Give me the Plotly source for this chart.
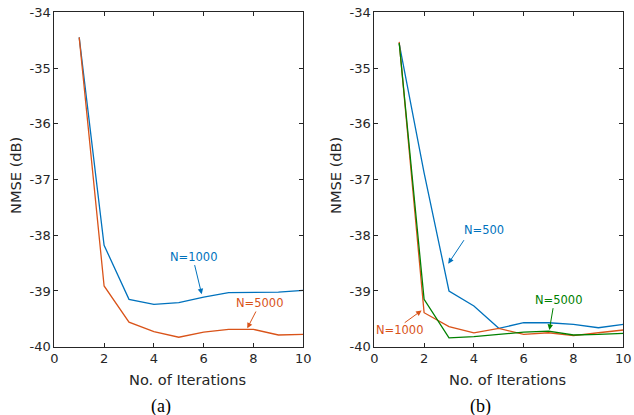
import plotly.graph_objects as go

iters = [1, 2, 3, 4, 5, 6, 7, 8, 9, 10]

# Panel (a)
a_n1000 = [-34.45, -38.18, -39.15, -39.24, -39.21, -39.11, -39.03, -39.03, -39.02, -38.99]
a_n5000 = [-34.45, -38.91, -39.56, -39.73, -39.83, -39.74, -39.69, -39.69, -39.79, -39.78]

# Panel (b)
b_n500 = [-34.56, -36.88, -39.00, -39.27, -39.67, -39.57, -39.57, -39.60, -39.66, -39.60]
b_n1000 = [-34.53, -39.39, -39.64, -39.75, -39.67, -39.78, -39.75, -39.80, -39.75, -39.70]
b_n5000 = [-34.55, -39.15, -39.84, -39.82, -39.78, -39.74, -39.72, -39.79, -39.78, -39.76]

x_ticks = [0, 2, 4, 6, 8, 10]
y_ticks = [-40, -39, -38, -37, -36, -35, -34]
y_tick_text = ["-40", "-39", "-38", "-37", "-36", "-35", "-34"]

BLUE = "#0072BD"
ORANGE = "#D95319"
GREEN = "#008000"
AX = "#262626"
FONT = "DejaVu Sans"

fig = go.Figure()

def line(x, y, color, xa, ya):
    fig.add_trace(go.Scatter(x=x, y=y, mode="lines", line=dict(color=color, width=1.3),
                             xaxis=xa, yaxis=ya, showlegend=False, hoverinfo="skip"))

line(iters, a_n1000, BLUE, "x", "y")
line(iters, a_n5000, ORANGE, "x", "y")
line(iters, b_n500, BLUE, "x2", "y2")
line(iters, b_n1000, ORANGE, "x2", "y2")
line(iters, b_n5000, GREEN, "x2", "y2")

ydom = [1 - 346.7 / 415, 1 - 12.3 / 415]
xdom1 = [54.3 / 634, 303.3 / 634]
xdom2 = [374.3 / 634, 623.3 / 634]

def xaxis(dom, anchor):
    return dict(domain=dom, anchor=anchor, range=[0, 10], tickvals=x_ticks,
                showline=True, linecolor=AX, linewidth=1, mirror="ticks",
                ticks="inside", ticklen=4, tickcolor=AX, showgrid=False, zeroline=False,
                automargin=False,
                tickfont=dict(family=FONT, size=13, color=AX))

def yaxis(anchor):
    return dict(domain=ydom, anchor=anchor, range=[-40, -34], tickvals=y_ticks,
                ticktext=y_tick_text, showline=True, linecolor=AX, linewidth=1,
                mirror="ticks", ticks="inside", ticklen=4, tickcolor=AX,
                showgrid=False, zeroline=False, automargin=False,
                tickfont=dict(family=FONT, size=13, color=AX))

anns = []

def label(text, x, y, angle=0, size=14.6, family=FONT, color=AX):
    anns.append(dict(text=text, xref="paper", yref="paper", x=x / 634, y=1 - y / 415,
                     xanchor="center", yanchor="middle", showarrow=False, textangle=angle,
                     font=dict(family=family, size=size, color=color)))

label("NMSE (dB)", 15, 176, angle=-90)
label("NMSE (dB)", 335, 176, angle=-90)
label("No. of Iterations", 187, 379)
label("No. of Iterations", 507, 379)
label("(a)", 161, 406, size=18, family="Liberation Serif", color="black")
label("(b)", 481, 406, size=18, family="Liberation Serif", color="black")

def callout(text, tx, ty, hx, hy, ax, ay, color, xr, yr):
    anns.append(dict(text=text, x=tx, y=ty, xref=xr, yref=yr, showarrow=False,
                     xanchor="center", yanchor="middle",
                     font=dict(family=FONT, size=11.5, color=color)))
    anns.append(dict(text="", x=hx, y=hy, xref=xr, yref=yr, showarrow=True,
                     ax=ax, ay=ay, axref="pixel", ayref="pixel",
                     arrowhead=2, arrowsize=1.1, arrowwidth=1, arrowcolor=color))

callout("N=1000", 5.62, -38.39, 5.92, -39.06, -7.4, -30.7, BLUE, "x", "y")
callout("N=5000", 8.26, -39.22, 7.75, -39.67, 9.4, -18.3, ORANGE, "x", "y")
callout("N=500", 4.41, -37.90, 2.97, -38.51, 16.7, -25, BLUE, "x2", "y2")
callout("N=5000", 7.42, -39.17, 7.03, -39.70, 4, -23.3, GREEN, "x2", "y2")
callout("N=1000", 1.03, -39.70, 1.9, -39.35, -18.4, 13.3, ORANGE, "x2", "y2")

fig.update_layout(
    width=634, height=415, autosize=False,
    margin=dict(l=0, r=0, t=0, b=0, autoexpand=False),
    paper_bgcolor="white", plot_bgcolor="white",
    xaxis=xaxis(xdom1, "y"), yaxis=yaxis("x"),
    xaxis2=xaxis(xdom2, "y2"), yaxis2=yaxis("x2"),
    annotations=anns,
)

fig.write_html("out.html", config={"displayModeBar": False},
               post_script="document.body.style.margin='0';document.body.style.overflow='hidden';")
